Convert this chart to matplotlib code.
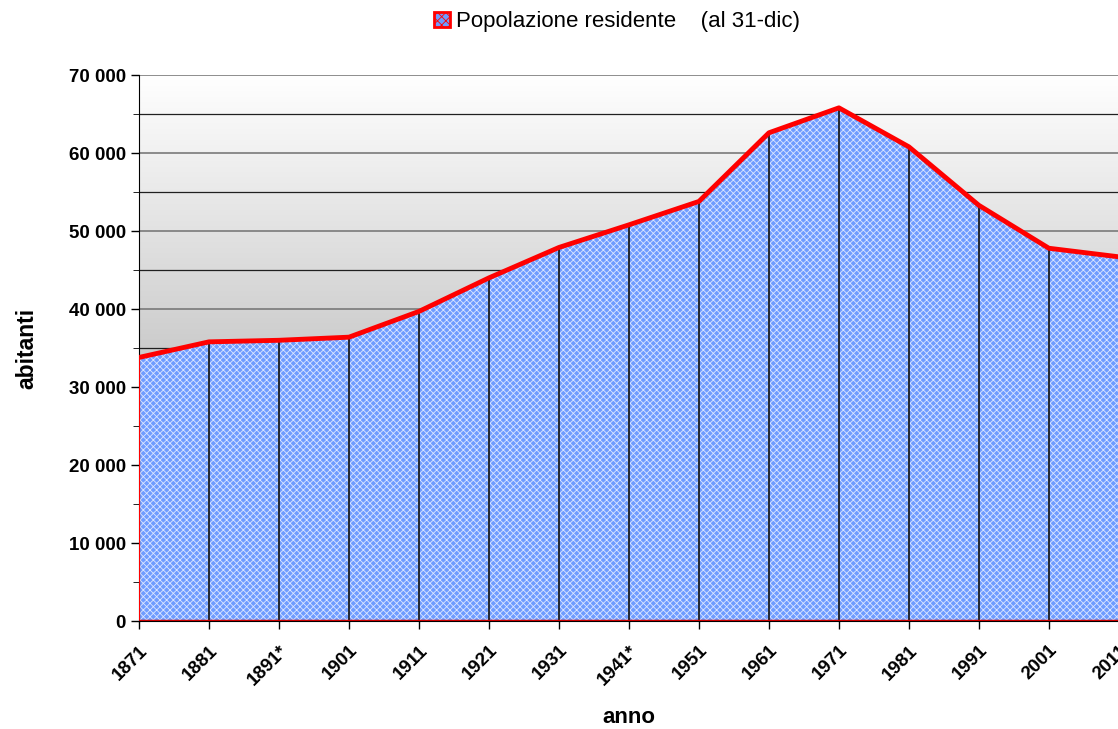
import numpy as np
import matplotlib.pyplot as plt
from matplotlib.colors import LinearSegmentedColormap
from matplotlib.ticker import FuncFormatter, MultipleLocator
from matplotlib.patches import Patch

anni = ["1871", "1881", "1891*", "1901", "1911", "1921", "1931", "1941*",
        "1951", "1961", "1971", "1981", "1991", "2001", "2011"]
abitanti = [33800, 35800, 36000, 36400, 39700, 44000, 47900, 50800,
            53800, 62600, 65800, 60800, 53300, 47800, 46700]

plt.rcParams["font.family"] = ["Liberation Sans", "DejaVu Sans"]
plt.rcParams["hatch.color"] = "#dbe6ff"
plt.rcParams["hatch.linewidth"] = 0.6

fig = plt.figure(figsize=(11.18, 7.29), dpi=100)
ax = fig.add_axes([0.1243, 0.148, 0.8765, 0.749])

x = np.arange(len(anni))
ymax = 70000

# grey gradient background
grad = np.linspace(0, 1, 256).reshape(-1, 1)
cmap = LinearSegmentedColormap.from_list("g", ["#9a9a9a", "#ffffff"])
ax.imshow(grad, extent=[0, len(anni) - 1, 0, ymax], aspect="auto",
          cmap=cmap, origin="lower", zorder=0)

ax.yaxis.set_major_locator(MultipleLocator(10000))
ax.yaxis.set_minor_locator(MultipleLocator(5000))
ax.grid(axis="y", which="major", color="#7a7a7a", lw=1.2, zorder=1)
ax.grid(axis="y", which="minor", color="#202020", lw=0.9, zorder=1)

# area with red outline and vertical drop lines
ax.fill_between(x, 0, abitanti, facecolor="#6f9cff", hatch="xxxxx",
                edgecolor="none", zorder=2)
ax.vlines(x[1:-1], 0, abitanti[1:-1], color="#111111", lw=1.2, zorder=3)
ax.plot(x, abitanti, color="#ff0000", lw=3.5, zorder=4, solid_capstyle="round")
ax.plot([0, 0], [0, abitanti[0]], color="#ff0000", lw=1.5, zorder=4)
ax.plot([0, len(anni) - 1], [0, 0], color="#cc0000", lw=2.5, zorder=4)

ax.set_xlim(0, len(anni) - 1)
ax.set_ylim(0, ymax)
ax.set_xticks(x)
ax.set_xticklabels(anni, rotation=45, ha="right", rotation_mode="anchor",
                   fontsize=13.5, fontweight="bold")
ax.yaxis.set_major_formatter(FuncFormatter(lambda v, p: f"{int(v):,}".replace(",", " ")))
for lab in ax.get_yticklabels():
    lab.set_fontweight("bold")
ax.tick_params(axis="y", labelsize=13.5, length=6, width=1)
ax.tick_params(axis="y", which="minor", length=4)
ax.tick_params(axis="x", length=6, width=1, pad=9)
for s in ["top", "right"]:
    ax.spines[s].set_visible(False)
ax.spines["left"].set_color("black")
ax.spines["bottom"].set_color("black")

ax.set_xlabel("anno", fontsize=16, fontweight="bold", labelpad=13)
ax.set_ylabel("abitanti", fontsize=16.5, fontweight="bold", labelpad=22)

handle = Patch(facecolor="#6f9cff", edgecolor="#ff0000", lw=2, hatch="xxxx")
fig.legend([handle], ["Popolazione residente    (al 31-dic)"], loc="center",
           bbox_to_anchor=(0.552, 0.970), frameon=False, fontsize=16,
           handlelength=0.7, handleheight=0.7, handletextpad=0.3)

fig.savefig("out.png", dpi=100)
